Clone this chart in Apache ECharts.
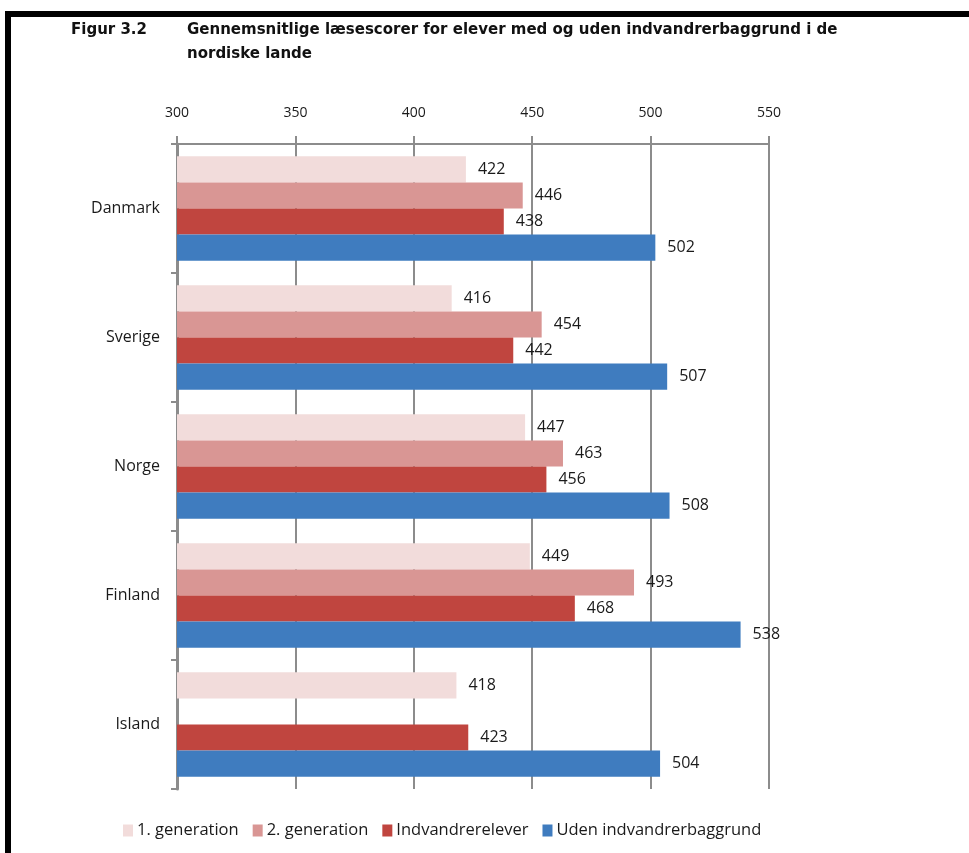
<!DOCTYPE html>
<html>
<head>
<meta charset="utf-8">
<script src="https://cdn.jsdelivr.net/npm/echarts@6/dist/echarts.min.js"></script>
<style>
html,body{margin:0;padding:0;background:#fff;}
#chart{width:969px;height:853px;}
</style>
</head>
<body>
<div id="chart"></div>
<script>
const countries = ['Danmark', 'Sverige', 'Norge', 'Finland', 'Island'];
const seriesNames = ['1. generation', '2. generation', 'Indvandrerelever', 'Uden indvandrerbaggrund'];
const gen1 = [422, 416, 447, 449, 418];
const gen2 = [446, 454, 463, 493, null];
const indvandrere = [438, 442, 456, 468, 423];
const udenBaggrund = [502, 507, 508, 538, 504];
const xTicks = [300, 350, 400, 450, 500, 550];

const colors = ['#f2dcdb', '#d99694', '#c0453f', '#3f7cbf'];
const values = [gen1, gen2, indvandrere, udenBaggrund];

const chart = echarts.init(document.getElementById('chart'));
const textFont = 'Open Sans';
chart.setOption({
  animation: false,
  backgroundColor: '#ffffff',
  color: colors,
  graphic: [
    { type: 'rect', shape: { x: 5, y: 11, width: 964, height: 6 }, style: { fill: '#000' } },
    { type: 'rect', shape: { x: 5, y: 11, width: 6, height: 842 }, style: { fill: '#000' } },
    { type: 'text', left: 71, top: 23, style: { text: 'Figur 3.2', font: 'bold 15px "DejaVu Sans"', fill: '#111' } },
    { type: 'text', left: 187, top: 23, style: { text: 'Gennemsnitlige læsescorer for elever med og uden indvandrerbaggrund i de', font: 'bold 15px "DejaVu Sans"', fill: '#111' } },
    { type: 'text', left: 187, top: 47, style: { text: 'nordiske lande', font: 'bold 15px "DejaVu Sans"', fill: '#111' } }
  ],
  legend: {
    data: seriesNames,
    left: 118,
    top: 817,
    itemWidth: 10,
    itemHeight: 12,
    itemGap: 14,
    icon: 'rect',
    textStyle: { fontFamily: textFont, fontSize: 16.5, color: '#1a1a1a', padding: [0, 0, 0, -1] }
  },
  grid: { left: 177, right: 200, top: 144, bottom: 64, containLabel: false },
  xAxis: {
    type: 'value',
    position: 'top',
    min: xTicks[0],
    max: xTicks[xTicks.length - 1],
    interval: 50,
    axisLine: { show: true, lineStyle: { color: '#8c8c8c', width: 2 } },
    axisTick: { show: true, length: 8, lineStyle: { color: '#8c8c8c', width: 2 } },
    axisLabel: { margin: 24, fontFamily: textFont, fontSize: 14, color: '#1a1a1a' },
    splitLine: { show: true, lineStyle: { color: '#8c8c8c', width: 2 } }
  },
  yAxis: {
    type: 'category',
    data: countries,
    inverse: true,
    axisLine: { show: true, lineStyle: { color: '#8c8c8c', width: 3 } },
    axisTick: { show: true, length: 6, lineStyle: { color: '#8c8c8c', width: 2 } },
    axisLabel: { margin: 17, fontFamily: textFont, fontSize: 16, color: '#1a1a1a' }
  },
  series: seriesNames.map((name, i) => ({
    name: name,
    type: 'bar',
    data: values[i],
    barGap: '0%',
    barCategoryGap: '19%',
    itemStyle: { color: colors[i] },
    label: {
      show: true,
      position: 'right',
      distance: 12,
      fontFamily: textFont,
      fontSize: 16,
      color: '#1a1a1a'
    }
  }))
});
</script>
</body>
</html>
